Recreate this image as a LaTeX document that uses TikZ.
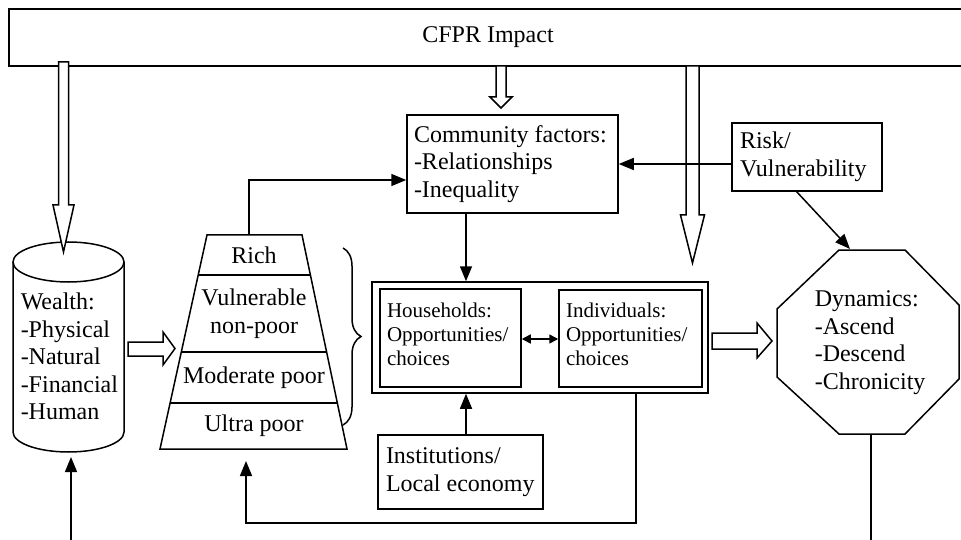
\documentclass[tikz,border=0pt]{standalone}
\usepackage{fontspec}
\setmainfont{Liberation Serif}
\usetikzlibrary{arrows.meta,calc,decorations.pathreplacing}
\begin{document}
\begin{tikzpicture}[x=1pt,y=-1pt, line width=1.5pt,
  big/.style={font=\fontsize{24}{27.5}\selectfont},
  small/.style={font=\fontsize{21}{24}\selectfont},
  box/.style={draw, rectangle, inner sep=0pt},
  lbl/.style={inner sep=0pt, big},
  txt/.style={inner sep=0pt, anchor=west, align=left},
  arr/.style={-{Triangle[length=15pt,width=12pt]}},
  darr/.style={{Triangle[length=9pt,width=9pt]}-{Triangle[length=9pt,width=9pt]}},
  warr/.style={draw, fill=white, line join=miter}]
\useasboundingbox (0,0) rectangle (961,540);

% banner
\node[box, big, minimum width=958pt, minimum height=57pt, align=center] (cfpr) at (488,37.5) {CFPR Impact};

% community factors
\node[box, minimum width=211pt, minimum height=98pt] (comm) at (512.5,164) {};
\node[txt, big] (commtxt) at ([xshift=7pt]comm.west) {Community factors:\\-Relationships\\-Inequality};

% risk
\node[box, minimum width=150pt, minimum height=68pt] (risk) at (807,157) {};
\node[txt, big] (risktxt) at ([xshift=8pt]risk.west) {Risk/\\Vulnerability};

% institutions
\node[box, minimum width=165pt, minimum height=74pt] (inst) at (460.5,472) {};
\node[txt, big] (insttxt) at ([xshift=8pt]inst.west) {Institutions/\\Local economy};

% outer double box
\node[box, minimum width=336pt, minimum height=111pt] (outer) at (540,337.5) {};
\node[box, minimum width=141pt, minimum height=98pt] (hh) at (450.5,338) {};
\node[txt, small] (hhtxt) at ([xshift=7pt,yshift=4pt]hh.west) {Households:\\Opportunities/\\choices};
\node[box, minimum width=143pt, minimum height=97pt] (ind) at (630.5,338.5) {};
\node[txt, small] (indtxt) at ([xshift=7pt,yshift=4pt]ind.west) {Individuals:\\Opportunities/\\choices};

% cylinder (wealth)
\draw (13,262) -- (13,432) arc[start angle=180, end angle=0, x radius=55.5, y radius=20] -- (124,262);
\draw (68.5,262) ellipse [x radius=55.5, y radius=20];
\node[txt, big] (wealth) at (20,356.5) {Wealth:\\-Physical\\-Natural\\-Financial\\-Human};

% pyramid
\coordinate (ptl) at (207,235);
\coordinate (ptr) at (302,235);
\coordinate (pbr) at (347,449);
\coordinate (pbl) at (160,449);
\draw (ptl) -- (ptr) -- (pbr) -- (pbl) -- cycle;
\draw ($(ptl)!0.187!(pbl)$) -- ($(ptr)!0.187!(pbr)$);
\draw ($(ptl)!0.547!(pbl)$) -- ($(ptr)!0.547!(pbr)$);
\draw ($(ptl)!0.785!(pbl)$) -- ($(ptr)!0.785!(pbr)$);
\node[lbl] (rich) at (254,255) {Rich};
\node[lbl, align=center] (vnp) at (254,313.5) {Vulnerable\\non-poor};
\node[lbl] (mod) at (254,377.5) {Moderate poor};
\node[lbl] (ultra) at (254,426) {Ultra poor};

% brace
\draw[decorate, decoration={brace, amplitude=18pt}] (343,248) -- (343,425);

% octagon
\coordinate (o1) at (839,250);
\coordinate (o2) at (905,250);
\coordinate (o3) at (959,305);
\coordinate (o4) at (959,379);
\coordinate (o5) at (905,434);
\coordinate (o6) at (839,434);
\coordinate (o7) at (777,377);
\coordinate (o8) at (777,309);
\draw[line join=miter] (o1) -- (o2) -- (o3) -- (o4) -- (o5) -- (o6) -- (o7) -- (o8) -- cycle;
\node[txt, big] (dyn) at (814,342.5) {Dynamics:\\-Ascend\\-Descend\\-Chronicity};

% white arrows
\draw[warr] (58.5,62) -- (68.5,62) -- (68.5,205) -- (74,205) -- (63.5,252) -- (53,205) -- (58.5,205) -- cycle;
\draw[warr] (496,66) -- (506,66) -- (506,97) -- (512,97) -- (501,108) -- (490,97) -- (496,97) -- cycle;
\draw[warr] (686,66) -- (699,66) -- (699,215) -- (704.5,215) -- (692.5,263) -- (680.5,215) -- (686,215) -- cycle;
\draw[warr] (128,342) -- (163,342) -- (163,332) -- (175,348.5) -- (163,365) -- (163,356) -- (128,356) -- cycle;
\draw[warr] (712,333) -- (757,333) -- (757,323) -- (772,341) -- (757,358) -- (757,349) -- (712,349) -- cycle;

% connectors
\coordinate (x466) at (466,0);
\coordinate (pyrtop) at (249,235);
\draw[arr] (pyrtop) |- ([yshift=-16pt]comm.west);
\draw[arr] (risk.west |- comm.east) -- (comm.east);
\draw[arr] (comm.south -| x466) -- (outer.north -| x466);
\draw[arr] (inst.north -| x466) -- (outer.south -| x466);
\draw[darr] (hh.east |- 0,339) -- (ind.west |- 0,339);
\coordinate (fbtop) at (636,393);
\coordinate (fbcorner) at (636,523);
\coordinate (fbend) at (246,461);
\draw[arr] (fbtop) -- (fbcorner) -| (fbend);
\coordinate (wbot) at (71,540);
\coordinate (wtop) at (71,457);
\draw[arr] (wbot) -- (wtop);
\coordinate (dbot) at (871,540);
\draw (871,434) -- (dbot);
\coordinate (rstart) at (796,191);
\draw[arr] (rstart) -- (850,249);
\end{tikzpicture}
\end{document}
